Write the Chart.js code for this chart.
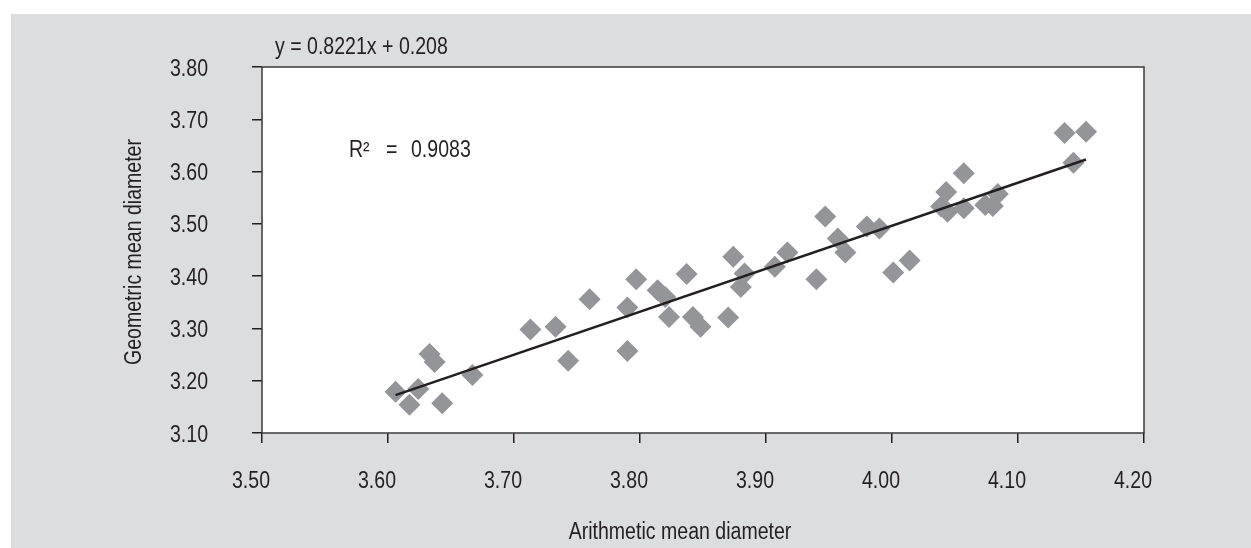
<!DOCTYPE html>
<html>
<head>
<meta charset="utf-8">
<script src="https://cdn.jsdelivr.net/npm/chart.js@4"></script>
<style>
html,body{margin:0;padding:0;background:#ffffff;}
#wrap{width:1251px;height:548px;position:relative;}
</style>
</head>
<body>
<div id="wrap"><canvas id="c" width="1251" height="548"></canvas></div>
<script>
// ---- data ----
const arithmeticMean = [3.606, 3.617, 3.624, 3.633, 3.637, 3.643, 3.667, 3.713, 3.733, 3.743,
  3.760, 3.790, 3.790, 3.797, 3.814, 3.820, 3.823, 3.837, 3.842, 3.848,
  3.870, 3.874, 3.880, 3.883, 3.907, 3.917, 3.940, 3.947, 3.957, 3.963,
  3.980, 3.990, 4.001, 4.014, 4.039, 4.043, 4.044, 4.057, 4.057, 4.074,
  4.080, 4.084, 4.137, 4.154, 4.144];
const geometricMean = [3.179, 3.154, 3.184, 3.251, 3.236, 3.157, 3.211, 3.298, 3.303, 3.238,
  3.356, 3.257, 3.340, 3.394, 3.373, 3.360, 3.322, 3.404, 3.322, 3.303,
  3.321, 3.437, 3.379, 3.405, 3.418, 3.445, 3.394, 3.514, 3.472, 3.445,
  3.495, 3.491, 3.407, 3.430, 3.533, 3.561, 3.523, 3.597, 3.530, 3.536,
  3.534, 3.557, 3.674, 3.676, 3.617];
const xTickValues = [3.50, 3.60, 3.70, 3.80, 3.90, 4.00, 4.10, 4.20];
const yTickValues = [3.10, 3.20, 3.30, 3.40, 3.50, 3.60, 3.70, 3.80];
const trendSlope = 0.8221;
const trendIntercept = 0.208;
const equationText = 'y = 0.8221x + 0.208';
const r2Parts = ['R\u00B2', '=', '0.9083'];
const xTitleText = 'Arithmetic mean diameter';
const yTitleText = 'Geometric mean diameter';

// Condensed sans look (Helvetica Narrow style) made by squeezing Liberation Sans horizontally
const FONT_FAMILY = "'Liberation Sans',Arial,sans-serif";
const FONT_SIZE = 23;
const SQUEEZE = 0.85;
const INK = '#231f20';

const points = arithmeticMean.map((x, i) => ({ x: x, y: geometricMean[i] }));
const xMin = Math.min(...arithmeticMean), xMax = Math.max(...arithmeticMean);
const trend = [xMin, xMax].map(x => ({ x: x, y: trendSlope * x + trendIntercept }));

function narrowText(ctx, text, x, y, align, rotation) {
  ctx.save();
  ctx.translate(x, y);
  if (rotation) ctx.rotate(rotation);
  ctx.scale(SQUEEZE, 1);
  ctx.font = FONT_SIZE + 'px ' + FONT_FAMILY;
  ctx.fillStyle = INK;
  ctx.textAlign = align;
  ctx.textBaseline = 'alphabetic';
  ctx.fillText(text, 0, 0);
  ctx.restore();
}

const decor = {
  id: 'decor',
  beforeDraw(chart) {
    const { ctx, chartArea: a } = chart;
    ctx.save();
    ctx.fillStyle = '#dcdddf';
    ctx.fillRect(11, 14, chart.width - 11, chart.height - 14);
    ctx.fillStyle = '#ffffff';
    ctx.fillRect(a.left, a.top, a.right - a.left, a.bottom - a.top);
    ctx.restore();
  },
  afterDraw(chart) {
    const { ctx, chartArea: a } = chart;
    const xs = chart.scales.x, ys = chart.scales.y;
    ctx.save();
    ctx.strokeStyle = '#3a3a3a';
    ctx.lineWidth = 1.5;
    ctx.strokeRect(a.left, a.top, a.right - a.left, a.bottom - a.top);
    ctx.restore();
    // tick labels, placed by the library's scales
    xs.ticks.forEach(t => narrowText(ctx, t.value.toFixed(2), xs.getPixelForValue(t.value) - 11, a.bottom + 55, 'center'));
    ys.ticks.forEach(t => narrowText(ctx, t.value.toFixed(2), a.left - 54, ys.getPixelForValue(t.value) + 8.5, 'right'));
    // axis titles
    narrowText(ctx, xTitleText, 680, 539, 'center');
    narrowText(ctx, yTitleText, 140.5, 252, 'center', -Math.PI / 2);
    // regression annotation
    narrowText(ctx, equationText, 275, 54, 'left');
    narrowText(ctx, r2Parts[0], 349, 157, 'left');
    narrowText(ctx, r2Parts[1], 386, 157, 'left');
    narrowText(ctx, r2Parts[2], 411, 157, 'left');
  }
};

new Chart(document.getElementById('c'), {
  data: {
    datasets: [
      {
        type: 'line',
        data: trend,
        borderColor: INK,
        borderWidth: 2.5,
        pointRadius: 0,
        fill: false,
        order: 0
      },
      {
        type: 'scatter',
        data: points,
        pointStyle: 'rectRot',
        pointRadius: 11,
        pointHoverRadius: 11,
        backgroundColor: '#939598',
        borderWidth: 0,
        order: 1
      }
    ]
  },
  options: {
    responsive: false,
    devicePixelRatio: 1,
    animation: false,
    layout: { padding: { left: 0, top: 67, right: 107, bottom: 0 } },
    plugins: { legend: { display: false }, tooltip: { enabled: false } },
    scales: {
      x: {
        type: 'linear',
        min: 3.5, max: 4.2,
        afterBuildTicks(s) { s.ticks = xTickValues.map(v => ({ value: v })); },
        afterFit(s) { s.height = 115; },
        grid: { drawOnChartArea: false, drawTicks: true, tickLength: 10, color: INK, lineWidth: 1.5 },
        border: { display: false },
        ticks: { display: false, autoSkip: false, maxRotation: 0 },
        title: { display: false }
      },
      y: {
        type: 'linear',
        min: 3.1, max: 3.8,
        afterBuildTicks(s) { s.ticks = yTickValues.map(v => ({ value: v })); },
        afterFit(s) { s.width = 262; },
        grid: { drawOnChartArea: false, drawTicks: true, tickLength: 10, color: INK, lineWidth: 1.5 },
        border: { display: false },
        ticks: { display: false, autoSkip: false },
        title: { display: false }
      }
    }
  },
  plugins: [decor]
});
</script>
</body>
</html>
